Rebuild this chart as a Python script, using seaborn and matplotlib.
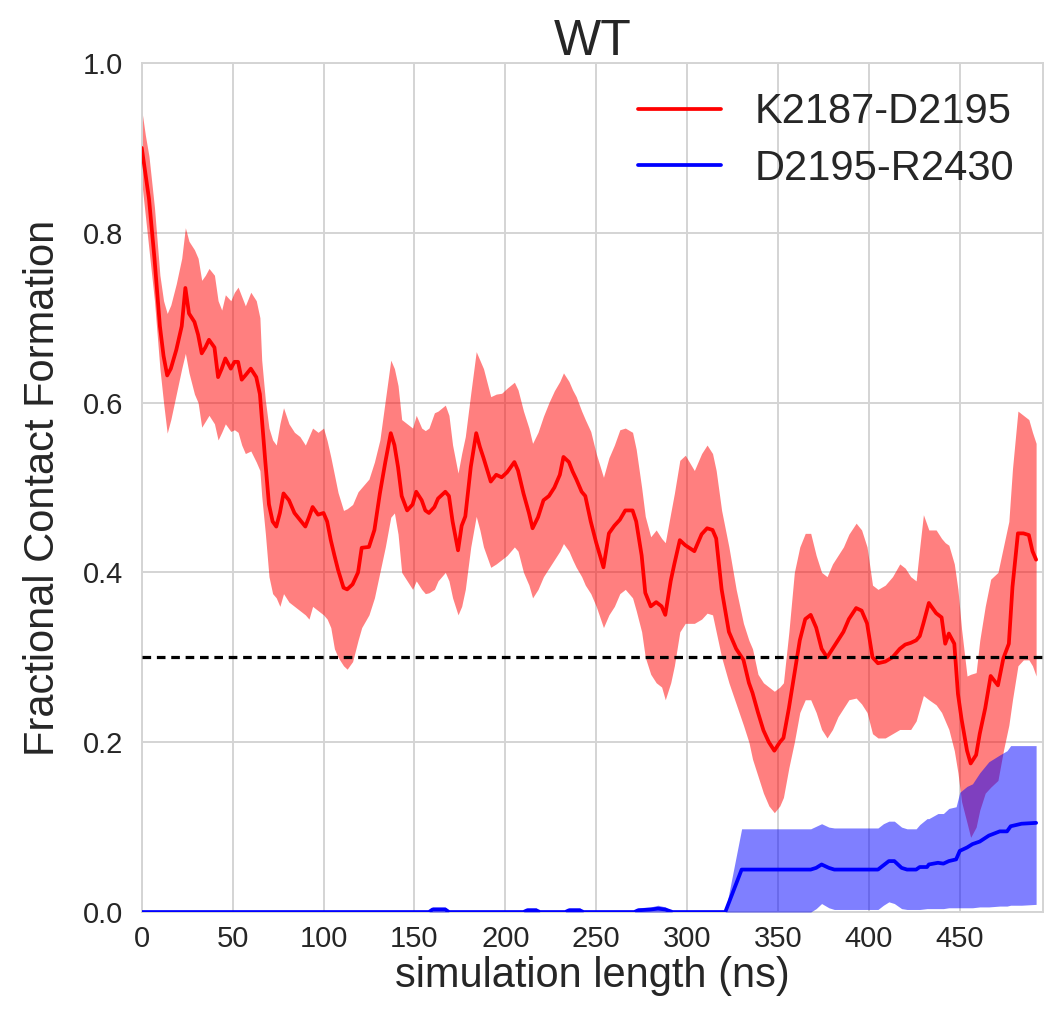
import numpy as np
import pandas as pd
import matplotlib
matplotlib.use("Agg")
import matplotlib.pyplot as plt
import seaborn as sns

# ---------------- data ----------------
red_t = [0, 2, 4, 7, 10, 12, 14, 16, 19, 22, 24, 26, 29, 31, 33, 35, 37, 40, 42, 44,
         46, 49, 51, 53, 55, 57, 60, 63, 65, 66, 68, 70, 72, 74, 76, 78, 81, 84, 87, 90,
         92, 94, 97, 100, 102, 104, 106, 108, 111, 113, 116, 119, 121, 125, 128, 131, 134, 137, 139, 141,
         143, 146, 149, 151, 154, 156, 158, 161, 163, 167, 169, 171, 174, 176, 178, 181, 184, 186, 188, 192,
         195, 198, 201, 205, 207, 210, 213, 215, 218, 221, 224, 227, 230, 232, 235, 237, 239, 242, 244, 247,
         250, 254, 257, 260, 263, 266, 270, 272, 275, 277, 280, 283, 286, 288, 291, 293, 296, 299, 304, 308,
         311, 314, 316, 319, 323, 327, 331, 334, 336, 339, 342, 345, 348, 351, 353, 356, 359, 362, 365, 368,
         371, 374, 377, 380, 383, 386, 389, 393, 396, 399, 402, 405, 409, 413, 417, 420, 423, 426, 428, 430,
         433, 437, 440, 442, 444, 447, 449, 451, 454, 456, 459, 461, 464, 467, 471, 474, 477, 479, 482, 485,
         488, 490, 492]
red_mean = [0.90, 0.87, 0.84, 0.77, 0.69, 0.655, 0.632, 0.64, 0.662, 0.69, 0.735, 0.705, 0.695, 0.68, 0.658, 0.665, 0.674, 0.665, 0.63, 0.64,
            0.652, 0.64, 0.648, 0.648, 0.627, 0.632, 0.64, 0.63, 0.61, 0.583, 0.53, 0.48, 0.46, 0.454, 0.47, 0.493, 0.485, 0.47, 0.462, 0.454,
            0.465, 0.477, 0.468, 0.47, 0.46, 0.438, 0.42, 0.403, 0.382, 0.38, 0.386, 0.40, 0.429, 0.43, 0.45, 0.493, 0.53, 0.564, 0.55, 0.524,
            0.49, 0.473, 0.48, 0.495, 0.485, 0.473, 0.47, 0.477, 0.487, 0.495, 0.49, 0.46, 0.426, 0.455, 0.466, 0.524, 0.564, 0.548, 0.535, 0.507,
            0.515, 0.512, 0.518, 0.53, 0.52, 0.493, 0.47, 0.452, 0.465, 0.485, 0.49, 0.50, 0.515, 0.536, 0.53, 0.519, 0.51, 0.495, 0.49, 0.46,
            0.435, 0.406, 0.446, 0.455, 0.462, 0.473, 0.473, 0.46, 0.42, 0.376, 0.36, 0.365, 0.36, 0.35, 0.39, 0.41, 0.438, 0.432, 0.425, 0.445,
            0.452, 0.45, 0.44, 0.38, 0.33, 0.31, 0.297, 0.27, 0.258, 0.235, 0.214, 0.20, 0.19, 0.20, 0.205, 0.24, 0.28, 0.32, 0.345, 0.35,
            0.335, 0.31, 0.30, 0.31, 0.32, 0.33, 0.345, 0.358, 0.355, 0.34, 0.30, 0.293, 0.295, 0.30, 0.31, 0.315, 0.317, 0.32, 0.325, 0.34,
            0.364, 0.352, 0.347, 0.316, 0.328, 0.316, 0.257, 0.227, 0.19, 0.175, 0.185, 0.21, 0.24, 0.278, 0.267, 0.299, 0.316, 0.383, 0.446, 0.446,
            0.444, 0.425, 0.415]
red_lo = [0.86, 0.82, 0.78, 0.72, 0.64, 0.60, 0.564, 0.58, 0.61, 0.64, 0.658, 0.635, 0.61, 0.60, 0.571, 0.578, 0.585, 0.575, 0.556, 0.565,
          0.575, 0.566, 0.568, 0.565, 0.55, 0.54, 0.543, 0.53, 0.52, 0.49, 0.446, 0.395, 0.375, 0.37, 0.36, 0.375, 0.365, 0.36, 0.355, 0.35,
          0.345, 0.36, 0.355, 0.35, 0.345, 0.335, 0.31, 0.30, 0.29, 0.286, 0.295, 0.32, 0.335, 0.35, 0.37, 0.40, 0.43, 0.465, 0.47, 0.445,
          0.40, 0.39, 0.38, 0.39, 0.38, 0.375, 0.376, 0.38, 0.39, 0.40, 0.39, 0.37, 0.35, 0.36, 0.38, 0.43, 0.466, 0.45, 0.43, 0.406,
          0.41, 0.415, 0.42, 0.43, 0.425, 0.40, 0.385, 0.37, 0.38, 0.395, 0.405, 0.415, 0.425, 0.434, 0.425, 0.415, 0.406, 0.395, 0.385, 0.375,
          0.36, 0.335, 0.35, 0.36, 0.375, 0.38, 0.37, 0.355, 0.33, 0.30, 0.28, 0.27, 0.265, 0.25, 0.27, 0.29, 0.33, 0.34, 0.34, 0.345,
          0.352, 0.35, 0.33, 0.30, 0.27, 0.245, 0.22, 0.20, 0.18, 0.16, 0.14, 0.125, 0.117, 0.125, 0.135, 0.17, 0.20, 0.235, 0.25, 0.25,
          0.235, 0.215, 0.205, 0.215, 0.23, 0.24, 0.25, 0.252, 0.245, 0.235, 0.21, 0.205, 0.205, 0.21, 0.215, 0.215, 0.215, 0.225, 0.24, 0.255,
          0.25, 0.244, 0.235, 0.225, 0.215, 0.19, 0.164, 0.13, 0.105, 0.088, 0.10, 0.12, 0.14, 0.147, 0.155, 0.19, 0.22, 0.25, 0.29, 0.297,
          0.297, 0.29, 0.278]
red_hi = [0.945, 0.915, 0.89, 0.83, 0.75, 0.72, 0.705, 0.715, 0.74, 0.77, 0.806, 0.79, 0.78, 0.77, 0.744, 0.75, 0.758, 0.75, 0.72, 0.709,
          0.727, 0.72, 0.73, 0.736, 0.725, 0.714, 0.73, 0.72, 0.70, 0.65, 0.603, 0.57, 0.556, 0.55, 0.575, 0.594, 0.575, 0.565, 0.56, 0.55,
          0.56, 0.57, 0.565, 0.57, 0.555, 0.536, 0.515, 0.494, 0.473, 0.475, 0.48, 0.495, 0.50, 0.51, 0.53, 0.556, 0.603, 0.65, 0.64, 0.62,
          0.58, 0.575, 0.57, 0.585, 0.57, 0.567, 0.57, 0.588, 0.59, 0.597, 0.585, 0.55, 0.517, 0.54, 0.56, 0.611, 0.66, 0.65, 0.64, 0.607,
          0.61, 0.611, 0.617, 0.624, 0.615, 0.59, 0.57, 0.552, 0.565, 0.584, 0.60, 0.614, 0.625, 0.635, 0.625, 0.615, 0.607, 0.59, 0.58, 0.566,
          0.54, 0.512, 0.535, 0.55, 0.568, 0.57, 0.565, 0.545, 0.50, 0.466, 0.442, 0.45, 0.44, 0.435, 0.47, 0.493, 0.532, 0.538, 0.52, 0.54,
          0.55, 0.54, 0.52, 0.473, 0.43, 0.38, 0.34, 0.32, 0.31, 0.28, 0.27, 0.265, 0.26, 0.265, 0.27, 0.33, 0.40, 0.43, 0.446, 0.446,
          0.42, 0.40, 0.395, 0.41, 0.42, 0.43, 0.445, 0.458, 0.45, 0.43, 0.385, 0.38, 0.385, 0.395, 0.41, 0.405, 0.395, 0.39, 0.43, 0.468,
          0.45, 0.45, 0.44, 0.435, 0.432, 0.41, 0.38, 0.333, 0.278, 0.28, 0.282, 0.32, 0.36, 0.392, 0.40, 0.43, 0.46, 0.522, 0.59, 0.585,
          0.58, 0.565, 0.552]

blue_t = [0, 158, 160, 167, 169, 210, 212, 217, 219, 233, 235, 241, 243, 271, 273, 280, 284, 288, 292, 321,
          330, 368, 371, 374, 378, 381, 405, 408, 411, 414, 418, 421, 426, 428, 432, 433, 438, 441, 444, 448,
          450, 454, 457, 461, 466, 472, 476, 478, 484, 492]
blue_mean = [0, 0, 0.003, 0.003, 0, 0, 0.002, 0.002, 0, 0, 0.002, 0.002, 0, 0, 0.002, 0.003, 0.004, 0.003, 0, 0,
             0.05, 0.05, 0.052, 0.056, 0.052, 0.05, 0.05, 0.055, 0.06, 0.06, 0.052, 0.05, 0.05, 0.053, 0.053, 0.056, 0.058, 0.057, 0.06, 0.062,
             0.072, 0.076, 0.08, 0.083, 0.09, 0.095, 0.095, 0.101, 0.104, 0.105]
blue_lo = [0, 0, 0, 0, 0, 0, 0, 0, 0, 0, 0, 0, 0, 0, 0, 0, 0, 0, 0, 0,
           0, 0, 0.004, 0.01, 0.005, 0.003, 0.003, 0.008, 0.012, 0.01, 0.004, 0.003, 0.003, 0.003, 0.004, 0.004, 0.004, 0.004, 0.005, 0.005,
           0.005, 0.005, 0.005, 0.006, 0.006, 0.007, 0.007, 0.008, 0.008, 0.009]
blue_hi = [0, 0, 0.006, 0.006, 0, 0, 0.005, 0.005, 0, 0, 0.005, 0.005, 0, 0, 0.005, 0.006, 0.008, 0.006, 0, 0,
           0.098, 0.098, 0.101, 0.104, 0.100, 0.099, 0.099, 0.104, 0.107, 0.107, 0.10, 0.098, 0.098, 0.103, 0.11, 0.11, 0.116, 0.116, 0.122, 0.124,
           0.141, 0.148, 0.151, 0.164, 0.177, 0.185, 0.19, 0.196, 0.196, 0.196]

threshold = 0.3
labels = ["K2187-D2195", "D2195-R2430"]
x_ticks = [0, 50, 100, 150, 200, 250, 300, 350, 400, 450]
y_ticks = [0.0, 0.2, 0.4, 0.6, 0.8, 1.0]

# ---------------- style ----------------
sns.set_style("whitegrid")
plt.rcParams["font.family"] = ["Liberation Sans", "DejaVu Sans"]
plt.rcParams["grid.linewidth"] = 1.4
plt.rcParams["grid.color"] = "#d4d4d4"

fig = plt.figure(figsize=(10.46, 10.11), dpi=100)
ax = fig.add_axes([0.1355, 0.0979, 0.862, 0.8398])

red_df = pd.DataFrame({"t": red_t, "mean": red_mean, "lo": red_lo, "hi": red_hi})
blue_df = pd.DataFrame({"t": blue_t, "mean": blue_mean, "lo": blue_lo, "hi": blue_hi})

ax.fill_between(red_df["t"], red_df["lo"], red_df["hi"], color="#ff0000", alpha=0.5, linewidth=0, zorder=2)
sns.lineplot(data=red_df, x="t", y="mean", color="#ff0000", linewidth=2.7, label=labels[0], ax=ax, zorder=3)
ax.fill_between(blue_df["t"], blue_df["lo"], blue_df["hi"], color="#0000ff", alpha=0.5, linewidth=0, zorder=4)
sns.lineplot(data=blue_df, x="t", y="mean", color="#0000ff", linewidth=2.7, label=labels[1], ax=ax, zorder=5)
ax.axhline(threshold, color="black", linewidth=2.3, linestyle=(0, (2.7, 1.8)), zorder=6)

ax.set_xlim(0, 496)
ax.set_ylim(0, 1.0)
ax.set_xticks(x_ticks)
ax.set_yticks(y_ticks)
ax.set_yticklabels([f"{v:.1f}" for v in y_ticks])
ax.tick_params(axis="both", labelsize=21, colors="#262626")
ax.tick_params(axis="y", pad=10)
ax.tick_params(axis="x", pad=6)
ax.set_xlabel("simulation length (ns)", fontsize=30, color="#262626", labelpad=2)
ax.set_ylabel("Fractional Contact Formation", fontsize=30, color="#262626", labelpad=14)
ax.set_title("WT", fontsize=36, color="#262626", pad=6)

for s in ax.spines.values():
    s.set_color("#d4d4d4")
    s.set_linewidth(1.4)

leg = ax.legend(loc="upper right", fontsize=30, frameon=False, handlelength=2.0,
                handletextpad=0.8, labelspacing=0.4, borderaxespad=0.3)
for line in leg.get_lines():
    line.set_linewidth(2.7)

fig.savefig("out.png", dpi=100)
